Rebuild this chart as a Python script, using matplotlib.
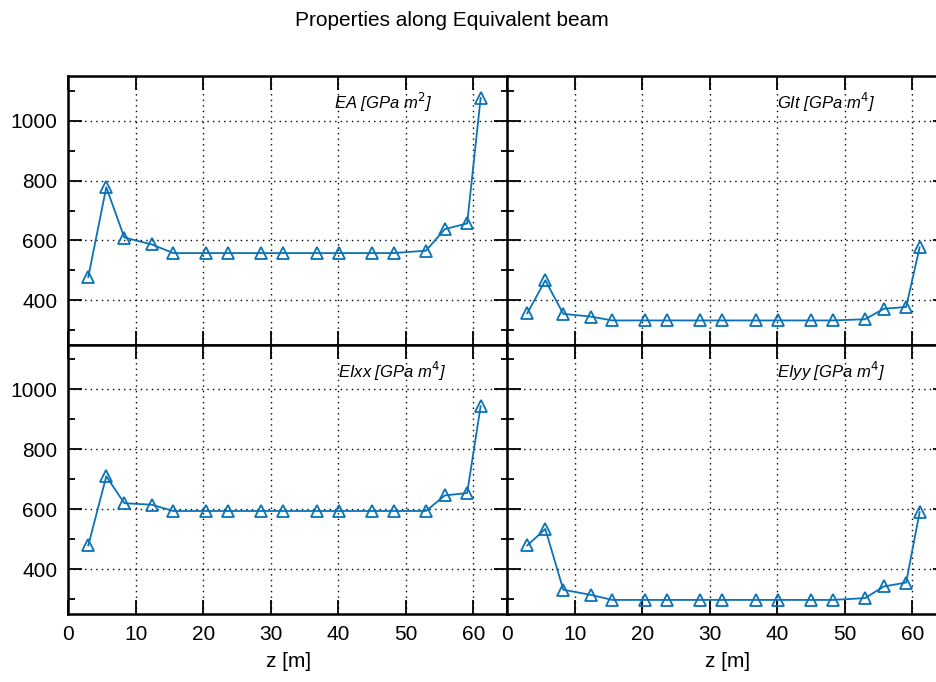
import numpy as np
import matplotlib
matplotlib.use('Agg')
import matplotlib.pyplot as plt
from matplotlib.ticker import MultipleLocator

plt.rcParams['font.family'] = ['Liberation Sans', 'DejaVu Sans']

z = [2.96, 5.63, 8.3, 12.35, 15.56, 20.4, 23.65, 28.6, 31.85, 36.8,
     40.05, 45.0, 48.2, 53.0, 55.8, 59.1, 61.1]

EA = [478, 778, 610, 587, 558, 558, 558, 558, 558, 558,
      558, 558, 558, 566, 638, 657, 1076]
GIt = [357, 467, 355, 346, 333, 333, 333, 333, 333, 333,
       333, 333, 333, 337, 372, 378, 577]
EIxx = [479, 710, 620, 615, 594, 594, 594, 594, 594, 594,
        594, 594, 594, 594, 646, 654, 944]
EIyy = [479, 534, 331, 314, 297, 297, 297, 297, 297, 297,
        297, 297, 297, 303, 342, 355, 590]

labels = ['EA [GPa m$^2$]', 'GIt [GPa m$^4$]', 'EIxx [GPa m$^4$]', 'EIyy [GPa m$^4$]']
label_x = [0.603, 0.614, 0.614, 0.614]
series = [EA, GIt, EIxx, EIyy]

W, H = 937, 682
fig = plt.figure(figsize=(W / 100, H / 100), dpi=100)

pw = 440 / W
ph = 269.5 / H
positions = [
    [68.3 / W, 1 - 345.3 / H, pw, ph],
    [507.3 / W, 1 - 345.3 / H, pw, ph],
    [68.3 / W, 1 - 614 / H, pw, ph],
    [507.3 / W, 1 - 614 / H, pw, ph],
]

color = '#0a72b5'

for i, (pos, y, lab) in enumerate(zip(positions, series, labels)):
    ax = fig.add_axes(pos)
    ax.plot(z, y, '-', color=color, lw=1.3, marker='^', ms=9,
            mfc='none', mec=color, mew=1.3)
    ax.set_xlim(0, 65.2)
    ax.set_ylim(250, 1150)
    ax.xaxis.set_major_locator(MultipleLocator(10))
    ax.yaxis.set_major_locator(MultipleLocator(200))
    ax.yaxis.set_minor_locator(MultipleLocator(100))
    ax.grid(True, which='major', color='black', ls=(0, (1, 3)), lw=1.0)
    ax.tick_params(which='both', direction='in', top=True, right=True,
                   labelsize=15, width=1.3, pad=8)
    ax.tick_params(which='major', length=10)
    ax.tick_params(which='minor', length=5)
    for s in ax.spines.values():
        s.set_linewidth(1.8)
    if i < 2:
        ax.tick_params(labelbottom=False)
    else:
        ax.set_xlabel('z [m]', fontsize=15, labelpad=6)
    if i % 2 == 1:
        ax.tick_params(labelleft=False)
    ax.text(label_x[i], 0.90, lab, transform=ax.transAxes, fontsize=12,
            style='italic', ha='left', va='center')

fig.text(452 / W, 1 - 20 / H, 'Properties along Equivalent beam',
         fontsize=15, ha='center', va='center')

fig.savefig('out.png', dpi=100)
